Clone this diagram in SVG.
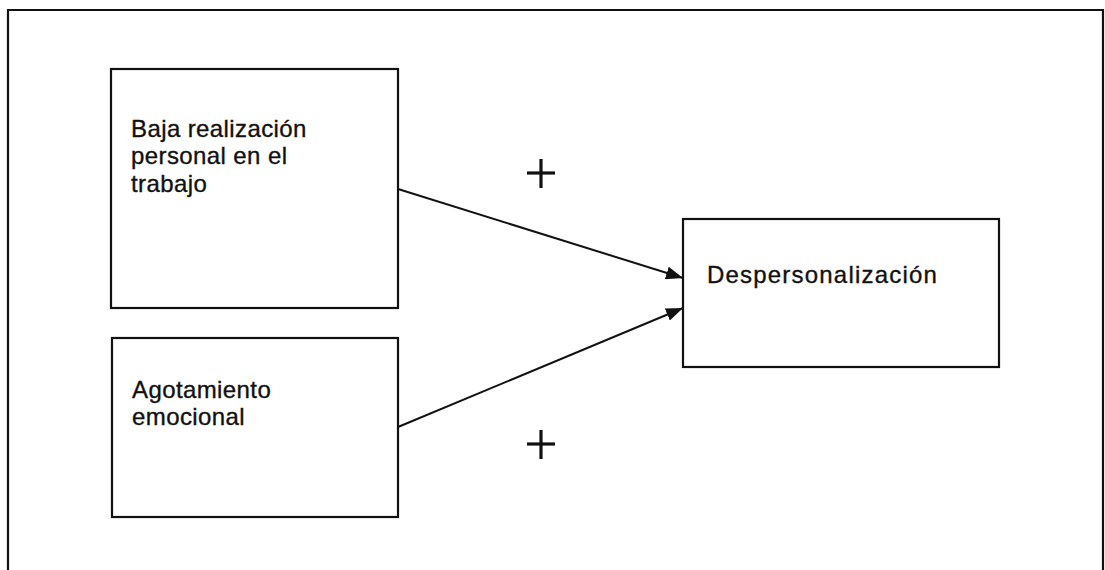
<svg xmlns="http://www.w3.org/2000/svg" width="1105" height="570" viewBox="0 0 1105 570">
<defs>
<style>
.box{fill:#fff;stroke:#111;stroke-width:2.2}
.lbl{font-family:"Liberation Sans",Arial,sans-serif;font-size:24px;fill:#111;stroke:#111;stroke-width:0.35;letter-spacing:0.4px}
.edge{stroke:#111;stroke-width:2;fill:none}
.plus{stroke:#111;stroke-width:3.2}
</style>
<marker id="ah" viewBox="0 0 17 13" refX="17" refY="6.5" markerWidth="17" markerHeight="13" markerUnits="userSpaceOnUse" orient="auto">
<path d="M0,0 L17,6.5 L0,13 Z" fill="#111"/>
</marker>
</defs>
<rect width="1105" height="570" fill="#fff"/>
<path d="M8,575 L8,10 L1103,10 L1103,575" fill="none" stroke="#111" stroke-width="2.2"/>
<g id="n1">
<rect class="box" x="111" y="69" width="287" height="239"/>
<text class="lbl" x="131" y="137">Baja realización</text>
<text class="lbl" x="131" y="164">personal en el</text>
<text class="lbl" x="131" y="192">trabajo</text>
</g>
<g id="n2">
<rect class="box" x="112" y="338" width="286" height="179"/>
<text class="lbl" x="132" y="398">Agotamiento</text>
<text class="lbl" x="132" y="425">emocional</text>
</g>
<g id="n3">
<rect class="box" x="683" y="219" width="316" height="148"/>
<text class="lbl" x="707" y="283" style="letter-spacing:1.2px">Despersonalización</text>
</g>
<g id="connectors">
<line class="edge" x1="398" y1="189" x2="683" y2="278" marker-end="url(#ah)"/>
<line class="edge" x1="398" y1="427" x2="683" y2="308" marker-end="url(#ah)"/>
</g>
<g id="signs">
<line class="plus" x1="527" y1="173" x2="555" y2="173"/>
<line class="plus" x1="541" y1="159" x2="541" y2="188"/>
<line class="plus" x1="527" y1="444" x2="555" y2="444"/>
<line class="plus" x1="541" y1="430" x2="541" y2="459"/>
</g>
</svg>
